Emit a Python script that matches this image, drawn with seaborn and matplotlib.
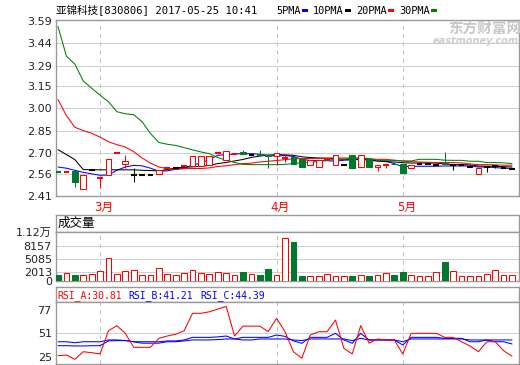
import matplotlib
matplotlib.use("Agg")
import matplotlib.pyplot as plt
from matplotlib.patches import Rectangle
import seaborn as sns
import numpy as np

# ---------------- data ----------------
title = "亚锦科技[830806] 2017-05-25 10:41"
legend_labels = ["5PMA", "10PMA", "20PMA", "30PMA"]
month_pos = [5, 26, 41]
month_labels = ["3月", "4月", "5月"]

open_ = [2.571, 2.571, 2.576, 2.453, 2.587, 2.527, 2.549, 2.701, 2.627, 2.553,
         2.553, 2.553, 2.560, 2.594, 2.600, 2.611, 2.611, 2.611, 2.620, 2.701,
         2.650, 2.690, 2.705, 2.683, 2.690, 2.683, 2.678, 2.665, 2.671, 2.661,
         2.616, 2.604, 2.660, 2.616, 2.616, 2.683, 2.604, 2.656, 2.604, 2.620,
         2.627, 2.627, 2.598, 2.627, 2.627, 2.620, 2.630, 2.620, 2.616, 2.604,
         2.560, 2.604, 2.610, 2.600, 2.589]
high = [2.571, 2.571, 2.576, 2.553, 2.587, 2.527, 2.656, 2.701, 2.688, 2.600,
        2.553, 2.553, 2.587, 2.594, 2.600, 2.611, 2.678, 2.678, 2.678, 2.701,
        2.710, 2.690, 2.721, 2.683, 2.716, 2.688, 2.701, 2.688, 2.671, 2.661,
        2.654, 2.654, 2.660, 2.688, 2.616, 2.683, 2.683, 2.656, 2.620, 2.620,
        2.627, 2.627, 2.620, 2.627, 2.627, 2.620, 2.705, 2.620, 2.616, 2.604,
        2.598, 2.611, 2.610, 2.600, 2.589]
low = [2.571, 2.571, 2.470, 2.453, 2.587, 2.460, 2.549, 2.701, 2.594, 2.504,
       2.553, 2.553, 2.560, 2.594, 2.600, 2.611, 2.611, 2.611, 2.620, 2.701,
       2.650, 2.690, 2.692, 2.683, 2.683, 2.594, 2.616, 2.638, 2.627, 2.604,
       2.616, 2.604, 2.660, 2.616, 2.616, 2.594, 2.604, 2.604, 2.578, 2.594,
       2.622, 2.564, 2.598, 2.627, 2.627, 2.620, 2.627, 2.582, 2.616, 2.604,
       2.560, 2.567, 2.600, 2.600, 2.589]
close = [2.571, 2.571, 2.504, 2.553, 2.587, 2.527, 2.656, 2.701, 2.645, 2.553,
         2.553, 2.553, 2.587, 2.594, 2.600, 2.611, 2.678, 2.678, 2.678, 2.701,
         2.710, 2.690, 2.692, 2.683, 2.683, 2.678, 2.701, 2.665, 2.627, 2.604,
         2.654, 2.654, 2.660, 2.688, 2.616, 2.594, 2.683, 2.604, 2.620, 2.620,
         2.622, 2.564, 2.620, 2.627, 2.627, 2.620, 2.627, 2.620, 2.616, 2.604,
         2.598, 2.604, 2.610, 2.600, 2.589]
# 1 = up (red), -1 = down (green), 0 = unchanged (black)
candle_dir = [-1, 1, -1, 1, 0, 1, 1, 1, 1, 0,
              0, 0, 1, 1, 0, 1, 1, 1, 1, 1,
              1, 1, -1, 0, -1, -1, 1, 1, -1, -1,
              1, 1, 1, 1, 0, -1, 1, -1, 1, 1,
              -1, -1, 1, 0, 0, 0, -1, 0, 0, 0,
              1, 0, 0, 0, 0]

volume = [1380, 1770, 1380, 1380, 1610, 2300, 5220, 1540, 2300, 2460,
          1380, 1380, 2920, 1540, 1380, 1770, 2460, 1770, 1540, 2000,
          1770, 1380, 2000, 1540, 1380, 2830, 1310, 9820, 8970, 1150,
          1150, 1150, 1540, 1150, 1150, 1150, 1380, 1150, 1380, 1770,
          1380, 2070, 1380, 1150, 1150, 2070, 4370, 2300, 1150, 1150,
          1150, 1540, 2530, 1380, 1380]
volume_dir = [-1, 1, -1, 1, 1, 1, 1, 1, 1, 1,
              1, 1, 1, 1, 1, 1, 1, 1, 1, 1,
              1, 1, -1, 1, -1, -1, 1, 1, -1, -1,
              1, 1, 1, 1, 1, -1, 1, -1, 1, 1,
              -1, -1, 1, 1, 1, 1, -1, 1, 1, 1,
              1, 1, 1, 1, 1]

ma5 = [2.604, 2.596, 2.582, 2.568, 2.558, 2.548, 2.550, 2.582, 2.604, 2.615,
       2.612, 2.596, 2.576, 2.578, 2.588, 2.596, 2.618, 2.630, 2.655, 2.683,
       2.688, 2.692, 2.694, 2.694, 2.690, 2.683, 2.678, 2.682, 2.675, 2.656,
       2.648, 2.647, 2.647, 2.643, 2.650, 2.652, 2.656, 2.656, 2.645, 2.643,
       2.627, 2.606, 2.609, 2.609, 2.609, 2.609, 2.611, 2.611, 2.611, 2.611,
       2.604, 2.604, 2.600, 2.596, 2.594]
ma10 = [2.721, 2.688, 2.654, 2.587, 2.585, 2.585, 2.585, 2.585, 2.585, 2.585,
        2.582, 2.580, 2.578, 2.587, 2.598, 2.602, 2.605, 2.609, 2.615, 2.627,
        2.635, 2.645, 2.655, 2.669, 2.678, 2.684, 2.688, 2.686, 2.683, 2.673,
        2.668, 2.665, 2.662, 2.659, 2.656, 2.656, 2.656, 2.649, 2.645, 2.640,
        2.638, 2.633, 2.631, 2.631, 2.631, 2.631, 2.625, 2.620, 2.620, 2.618,
        2.611, 2.609, 2.609, 2.606, 2.604]
ma20 = [3.060, 2.951, 2.873, 2.850, 2.832, 2.806, 2.775, 2.755, 2.739, 2.708,
        2.665, 2.630, 2.604, 2.593, 2.588, 2.593, 2.594, 2.594, 2.598, 2.608,
        2.612, 2.620, 2.627, 2.630, 2.638, 2.643, 2.648, 2.654, 2.660, 2.661,
        2.661, 2.663, 2.665, 2.665, 2.665, 2.665, 2.663, 2.660, 2.656, 2.656,
        2.650, 2.645, 2.640, 2.638, 2.636, 2.634, 2.634, 2.634, 2.632, 2.625,
        2.620, 2.620, 2.618, 2.616, 2.616]
ma30 = [3.554, 3.353, 3.300, 3.186, 3.137, 3.090, 3.045, 2.978, 2.964, 2.958,
        2.910, 2.830, 2.770, 2.758, 2.750, 2.735, 2.720, 2.706, 2.694, 2.668,
        2.650, 2.635, 2.622, 2.620, 2.620, 2.620, 2.620, 2.622, 2.627, 2.632,
        2.638, 2.640, 2.650, 2.656, 2.656, 2.662, 2.665, 2.662, 2.649, 2.649,
        2.649, 2.645, 2.645, 2.656, 2.656, 2.656, 2.650, 2.649, 2.649, 2.643,
        2.643, 2.634, 2.634, 2.632, 2.627]

rsi_a = [26.1, 26.8, 22.0, 30.5, 29.4, 28.0, 53.9, 59.5, 51.0, 35.4,
         35.4, 35.4, 45.4, 48.0, 50.0, 53.9, 73.3, 73.3, 75.0, 78.0,
         81.0, 48.0, 59.0, 59.0, 59.0, 53.0, 67.7, 52.8, 30.5, 23.2,
         49.0, 52.8, 52.8, 65.8, 34.3, 28.0, 59.5, 40.0, 44.7, 43.6,
         43.6, 28.0, 51.0, 51.0, 51.0, 51.0, 46.5, 46.5, 41.6, 36.9,
         30.5, 41.6, 41.6, 31.6, 25.5]
rsi_b = [41.6, 41.6, 40.5, 41.6, 41.6, 41.6, 43.6, 43.6, 43.0, 41.6,
         41.6, 41.6, 41.6, 42.5, 42.5, 43.6, 46.5, 46.5, 46.5, 47.0,
         48.0, 44.7, 46.5, 46.5, 46.5, 46.5, 49.1, 47.6, 42.5, 39.9,
         46.5, 46.5, 46.5, 51.0, 43.6, 39.9, 51.0, 43.6, 43.6, 43.6,
         43.6, 38.0, 46.5, 46.5, 46.5, 46.5, 45.4, 45.4, 45.4, 41.6,
         41.6, 43.6, 41.6, 41.6, 39.1]
rsi_c = [37.2, 37.2, 36.9, 36.9, 37.2, 37.2, 42.5, 42.9, 42.9, 41.6,
         40.0, 40.0, 40.0, 41.6, 41.6, 42.5, 43.6, 43.6, 43.6, 44.0,
         44.7, 44.7, 43.6, 43.6, 44.7, 44.7, 44.7, 44.7, 43.6, 42.9,
         44.7, 44.7, 44.7, 44.7, 44.7, 42.9, 45.4, 43.6, 43.6, 43.6,
         43.6, 41.6, 44.7, 44.7, 44.7, 44.7, 44.7, 44.7, 44.7, 43.6,
         43.6, 43.6, 43.6, 43.6, 43.6]
rsi_labels = ["RSI_A:30.81", "RSI_B:41.21", "RSI_C:44.39"]

price_ticks = [2.41, 2.56, 2.70, 2.85, 3.00, 3.15, 3.29, 3.44, 3.59]
volume_ticks = [0, 2013, 5085, 8157, 11229]
volume_tick_labels = ["0", "2013", "5085", "8157", "1.12万"]
rsi_ticks = [25, 51, 77]

# ---------------- style ----------------
sns.set_style("white")
plt.rcParams["font.family"] = ["DejaVu Sans", "Noto Sans CJK SC"]

RED = "#ff0000"
GREEN = "#00782d"
BLUE = "#0000ff"
MA_GREEN = "#008000"
FRAME = "#9a9a9a"
GRID = "#d0d0d0"
VGRID = "#c4c4c4"
MONO = ["DejaVu Sans Mono", "Noto Sans CJK SC"]
LW = 0.75  # about one pixel

W, H = 520, 365
fig = plt.figure(figsize=(W / 100, H / 100), dpi=100)
fig.patch.set_facecolor("white")


def px_axes(l, t, r, b):
    return fig.add_axes([l / W, 1 - b / H, (r - l) / W, (b - t) / H])


ax_main = px_axes(56, 20, 519, 196)
ax_vh = px_axes(56, 215, 519, 232)
ax_vol = px_axes(56, 232, 519, 281)
ax_rh = px_axes(56, 287, 519, 302)
ax_rsi = px_axes(56, 302, 519, 364)

n = len(close)
idx = np.arange(n)
XL = (-0.24, 54.83)

for ax in (ax_main, ax_vh, ax_vol, ax_rh, ax_rsi):
    ax.set_xlim(*XL)
    ax.set_xticks([])
    ax.set_facecolor("white")
    for s in ax.spines.values():
        s.set_color(FRAME)
        s.set_linewidth(1.0)
    ax.tick_params(axis="y", length=0, pad=3, labelsize=8, labelcolor="#222222")

ax_vh.set_yticks([])
ax_rh.set_yticks([])

# ---------------- main price panel ----------------
ax_main.set_ylim(2.408, 3.598)
ax_main.set_yticks(price_ticks)
ax_main.set_yticklabels([f"{v:.2f}" for v in price_ticks])
for v in price_ticks[1:-1]:
    ax_main.axhline(v, color=GRID, lw=LW, zorder=0)
for p in month_pos:
    ax_main.axvline(p, color=VGRID, lw=LW, ls=(0, (4, 4)), zorder=0)

for col, data in zip([BLUE, "black", RED, MA_GREEN], [ma5, ma10, ma20, ma30]):
    sns.lineplot(x=idx, y=data, ax=ax_main, color=col, lw=LW, sort=False, zorder=2)

bw = 0.68
for i in range(n):
    d = candle_dir[i]
    c = RED if d > 0 else (GREEN if d < 0 else "black")
    o, h, l, cl = open_[i], high[i], low[i], close[i]
    if h > l:
        ax_main.vlines(i, l, h, color=c, lw=LW, zorder=3)
    if abs(cl - o) < 1e-9:
        ax_main.hlines(o, i - bw / 2, i + bw / 2, color=c, lw=1.5, zorder=4)
    else:
        up = cl > o
        ax_main.bar(i, abs(cl - o), bottom=min(o, cl), width=bw,
                    facecolor="white" if up else GREEN,
                    edgecolor=RED if up else GREEN, lw=LW, zorder=4)

for p, lab in zip(month_pos, month_labels):
    ax_main.text(p + 0.45, -0.063, lab, transform=ax_main.get_xaxis_transform(),
                 ha="center", va="center", color=RED, fontsize=8.5,
                 family=["DejaVu Sans", "Noto Sans CJK SC"])
ax_main.set_xlabel("")
ax_main.set_ylabel("")

# ---------------- volume panel ----------------
ax_vh.set_ylim(0, 1)
ax_vh.text(2 / 463, 0.5, "成交量", transform=ax_vh.transAxes, ha="left", va="center",
           fontsize=9, family=["Noto Sans CJK SC", "DejaVu Sans"], color="black")

ax_vol.set_ylim(0, 11300)
ax_vol.set_yticks(volume_ticks)
ax_vol.set_yticklabels(volume_tick_labels)
for lab in ax_vol.get_yticklabels():
    lab.set_family(["DejaVu Sans", "Noto Sans CJK SC"])
for v in volume_ticks[1:-1]:
    ax_vol.axhline(v, color=GRID, lw=LW, zorder=0)
for p in month_pos:
    ax_vol.axvline(p, color=VGRID, lw=LW, ls=(0, (4, 4)), zorder=0)
for i in range(n):
    up = volume_dir[i] > 0
    ax_vol.bar(i, volume[i], width=bw, facecolor="white" if up else GREEN,
               edgecolor=RED if up else GREEN, lw=LW, zorder=3)
ax_vol.set_xlim(*XL)

# ---------------- RSI panel ----------------
ax_rh.set_ylim(0, 1)
for x0, lab, col in zip([1, 72, 144], rsi_labels, [RED, BLUE, BLUE]):
    ax_rh.text(x0 / 463, 0.45, lab, transform=ax_rh.transAxes, ha="left", va="center",
               fontsize=7, family=MONO, color=col)

ax_rsi.set_ylim(16.8, 85.9)
ax_rsi.set_yticks(rsi_ticks)
ax_rsi.set_yticklabels([str(v) for v in rsi_ticks])
ax_rsi.axhline(51, color=GRID, lw=LW, zorder=0)
for p in month_pos:
    ax_rsi.axvline(p, color=VGRID, lw=LW, ls=(0, (4, 4)), zorder=0)
for col, data in zip([BLUE, BLUE, RED], [rsi_c, rsi_b, rsi_a]):
    sns.lineplot(x=idx, y=data, ax=ax_rsi, color=col, lw=LW, sort=False, zorder=2)
ax_rsi.set_xlim(*XL)
ax_rsi.set_xlabel("")
ax_rsi.set_ylabel("")
ax_vol.set_xlabel("")
ax_vol.set_ylabel("")

# ---------------- header texts ----------------
fig.text(56 / W, 1 - 10 / H, title, ha="left", va="center", fontsize=7.6,
         family=MONO, color="black")
leg_x = [276, 313, 356, 399]
bar_x = [302, 345, 388, 431]
for tx, bx, lab, col in zip(leg_x, bar_x, legend_labels, [BLUE, "black", RED, MA_GREEN]):
    fig.text(tx / W, 1 - 10.5 / H, lab, ha="left", va="center", fontsize=7.4,
             family=MONO, color="black")
    fig.patches.append(Rectangle((bx / W, 1 - 11.8 / H), 6 / W, 2.6 / H,
                                 transform=fig.transFigure, facecolor=col,
                                 edgecolor="none"))

# watermark
fig.text(448 / W, 1 - 29 / H, "东方财富网", ha="left", va="center", fontsize=10.5,
         weight="bold", family=["Noto Sans CJK SC"], color="#c8c8c8")
fig.text(519 / W, 1 - 40.5 / H, "eastmoney.com", ha="right", va="center", fontsize=7,
         weight="bold", style="italic", family=["DejaVu Sans"], color="#cdcdcd")

fig.savefig("out.png", dpi=100, facecolor="white")
